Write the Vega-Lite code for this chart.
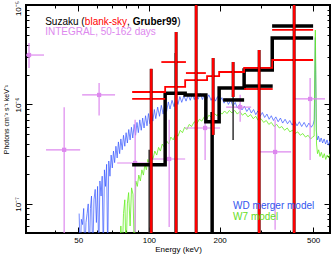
{
"$schema":"https://vega.github.io/schema/vega-lite/v6.json",
"width":304,"height":228,
"autosize":"none",
"padding":{"left":26,"top":5,"right":2,"bottom":21},
"config":{"view":{"stroke":"#000","strokeWidth":2},
 "axis":{"domain":false,"grid":false,"tickColor":"#000","tickWidth":1,"labelColor":"#000","titleColor":"#000","labelFont":"Liberation Sans","titleFont":"Liberation Sans","titleFontWeight":"normal","labelFontSize":8},
 "text":{"font":"Liberation Sans"}},
"datasets":{
"blue":[{"E":50.5,"F":8.0e-8},{"E":51.0,"F":3e-8},{"E":51.6,"F":7.0e-8},{"E":52.2,"F":6.2e-8},{"E":52.8,"F":9.0e-8},{"E":53.4,"F":3e-8},{"E":54.0,"F":6.5e-8},{"E":54.6,"F":8.0e-8},{"E":55.2,"F":1.0e-7},{"E":55.8,"F":3e-8},{"E":56.4,"F":9.0e-8},{"E":57.0,"F":1.2e-7},{"E":57.7,"F":3e-8},{"E":58.4,"F":1.1e-7},{"E":59.1,"F":1.4e-7},{"E":59.8,"F":6.5e-8},{"E":60.5,"F":1.5e-7},{"E":61.2,"F":3e-8},{"E":61.9,"F":1.7e-7},{"E":62.6,"F":1.2e-7},{"E":63.3,"F":1.9e-7},{"E":64.0,"F":3e-8},{"E":64.7,"F":2.2e-7},{"E":65.4,"F":1.5e-7},{"E":66.1,"F":2.5e-7},{"E":66.8,"F":3e-8},{"E":67.5,"F":2.7e-7},{"E":68.3,"F":1.9e-7},{"E":69.1,"F":3.1e-7},{"E":69.9,"F":2.3e-7},{"E":70.7,"F":3.4e-7},{"E":71.5,"F":2.6e-7},{"E":72.4,"F":3.8e-7},{"E":73.3,"F":2.9e-7},{"E":74.2,"F":4.2e-7},{"E":75.1,"F":3.2e-7},{"E":76.0,"F":4.5e-7},{"E":77.0,"F":3.5e-7},{"E":78.0,"F":4.9e-7},{"E":79.0,"F":3.8e-7},{"E":80.0,"F":5.2e-7},{"E":81.0,"F":4.1e-7},{"E":82.1,"F":5.6e-7},{"E":83.2,"F":4.4e-7},{"E":84.3,"F":5.9e-7},{"E":85.4,"F":4.6e-7},{"E":86.6,"F":6.3e-7},{"E":87.8,"F":4.9e-7},{"E":89.0,"F":6.6e-7},{"E":90.2,"F":5.2e-7},{"E":91.5,"F":7.0e-7},{"E":92.8,"F":5.5e-7},{"E":94.1,"F":7.3e-7},{"E":95.4,"F":5.8e-7},{"E":96.8,"F":7.7e-7},{"E":98.2,"F":6.1e-7},{"E":99.6,"F":8.1e-7},{"E":101,"F":6.4e-7},{"E":102.5,"F":8.5e-7},{"E":104,"F":6.8e-7},{"E":105.5,"F":8.9e-7},{"E":107,"F":7.2e-7},{"E":109,"F":9.4e-7},{"E":111,"F":7.6e-7},{"E":113,"F":9.8e-7},{"E":115,"F":8.0e-7},{"E":117,"F":1.02e-6},{"E":119,"F":8.5e-7},{"E":121,"F":1.06e-6},{"E":123,"F":9.0e-7},{"E":125.5,"F":1.1e-6},{"E":128,"F":9.5e-7},{"E":130.5,"F":1.15e-6},{"E":133,"F":1.0e-6},{"E":135.5,"F":1.2e-6},{"E":138,"F":1.05e-6},{"E":141,"F":1.22e-6},{"E":144,"F":1.08e-6},{"E":147,"F":1.25e-6},{"E":150,"F":1.1e-6},{"E":153,"F":1.27e-6},{"E":156,"F":1.12e-6},{"E":159,"F":1.28e-6},{"E":162,"F":1.13e-6},{"E":165.5,"F":1.29e-6},{"E":169,"F":1.12e-6},{"E":172.5,"F":1.27e-6},{"E":176,"F":1.12e-6},{"E":180,"F":1.25e-6},{"E":184,"F":1.1e-6},{"E":188,"F":1.23e-6},{"E":192,"F":1.08e-6},{"E":196,"F":1.2e-6},{"E":200,"F":1.06e-6},{"E":204.5,"F":1.17e-6},{"E":209,"F":1.03e-6},{"E":213.5,"F":1.14e-6},{"E":218,"F":1.0e-6},{"E":223,"F":1.1e-6},{"E":228,"F":9.6e-7},{"E":233,"F":1.05e-6},{"E":238,"F":9.2e-7},{"E":243.5,"F":1.0e-6},{"E":249,"F":8.8e-7},{"E":255,"F":9.6e-7},{"E":261,"F":8.5e-7},{"E":267,"F":9.2e-7},{"E":273,"F":8.2e-7},{"E":279,"F":8.9e-7},{"E":285,"F":7.9e-7},{"E":291,"F":8.6e-7},{"E":297.5,"F":7.6e-7},{"E":304,"F":8.3e-7},{"E":311,"F":7.4e-7},{"E":318,"F":8.0e-7},{"E":325,"F":7.1e-7},{"E":332,"F":7.7e-7},{"E":339,"F":6.9e-7},{"E":347,"F":7.5e-7},{"E":355,"F":6.7e-7},{"E":363,"F":7.3e-7},{"E":371,"F":6.5e-7},{"E":380,"F":7.1e-7},{"E":389,"F":6.4e-7},{"E":398,"F":6.9e-7},{"E":407,"F":6.2e-7},{"E":417,"F":6.8e-7},{"E":427,"F":6.1e-7},{"E":437,"F":6.7e-7},{"E":447,"F":6.0e-7},{"E":458,"F":6.6e-7},{"E":469,"F":5.9e-7},{"E":480,"F":6.5e-7},{"E":491,"F":5.9e-7},{"E":500,"F":6.3e-7},{"E":506,"F":7.0e-7},{"E":509,"F":2.2e-6},{"E":511,"F":4.7e-6},{"E":513,"F":1.8e-6},{"E":516,"F":5.5e-7},{"E":521,"F":4.4e-7},{"E":527,"F":4.8e-7},{"E":534,"F":4.2e-7},{"E":541,"F":4.6e-7},{"E":549,"F":4.1e-7},{"E":557,"F":4.5e-7},{"E":565,"F":4.0e-7},{"E":573,"F":4.4e-7},{"E":581,"F":3.9e-7},{"E":590,"F":4.3e-7}],
"green":[{"E":75.0,"F":3e-8},{"E":76.0,"F":6.0e-8},{"E":77.0,"F":3e-8},{"E":78.0,"F":8.0e-8},{"E":79.0,"F":1.1e-7},{"E":80.0,"F":3e-8},{"E":81.0,"F":1.0e-7},{"E":82.0,"F":1.3e-7},{"E":83.2,"F":6.0e-8},{"E":84.4,"F":1.45e-7},{"E":85.6,"F":1.25e-7},{"E":86.8,"F":3e-8},{"E":88.0,"F":1.7e-7},{"E":89.3,"F":1.5e-7},{"E":90.6,"F":1.95e-7},{"E":92.0,"F":1.7e-7},{"E":93.4,"F":2.2e-7},{"E":94.8,"F":1.95e-7},{"E":96.2,"F":2.5e-7},{"E":97.6,"F":2.2e-7},{"E":99.0,"F":2.8e-7},{"E":100.5,"F":2.5e-7},{"E":102,"F":3.1e-7},{"E":104,"F":2.8e-7},{"E":106,"F":3.4e-7},{"E":108,"F":3.1e-7},{"E":110,"F":3.7e-7},{"E":112,"F":3.4e-7},{"E":114,"F":4.0e-7},{"E":116.5,"F":3.7e-7},{"E":119,"F":4.3e-7},{"E":121.5,"F":4.0e-7},{"E":124,"F":4.7e-7},{"E":127,"F":4.4e-7},{"E":130,"F":5.1e-7},{"E":133,"F":4.8e-7},{"E":136,"F":5.5e-7},{"E":139,"F":5.2e-7},{"E":142,"F":5.9e-7},{"E":145,"F":5.6e-7},{"E":148.5,"F":6.3e-7},{"E":152,"F":6.0e-7},{"E":156,"F":6.7e-7},{"E":160,"F":6.4e-7},{"E":164,"F":7.1e-7},{"E":168,"F":6.8e-7},{"E":172,"F":7.5e-7},{"E":176,"F":7.1e-7},{"E":180,"F":7.8e-7},{"E":185,"F":7.4e-7},{"E":190,"F":8.1e-7},{"E":195,"F":7.7e-7},{"E":200,"F":8.4e-7},{"E":205,"F":8.0e-7},{"E":210,"F":8.6e-7},{"E":215,"F":8.1e-7},{"E":220,"F":8.7e-7},{"E":226,"F":8.2e-7},{"E":232,"F":8.7e-7},{"E":238,"F":8.0e-7},{"E":244,"F":8.5e-7},{"E":250,"F":7.8e-7},{"E":257,"F":8.2e-7},{"E":264,"F":7.5e-7},{"E":271,"F":7.9e-7},{"E":278,"F":7.2e-7},{"E":285,"F":7.6e-7},{"E":292,"F":6.9e-7},{"E":300,"F":7.2e-7},{"E":308,"F":6.6e-7},{"E":316,"F":6.9e-7},{"E":324,"F":6.3e-7},{"E":332,"F":6.6e-7},{"E":341,"F":6.0e-7},{"E":350,"F":6.3e-7},{"E":359,"F":5.8e-7},{"E":368,"F":6.0e-7},{"E":378,"F":5.5e-7},{"E":388,"F":5.8e-7},{"E":398,"F":5.3e-7},{"E":408,"F":5.5e-7},{"E":419,"F":5.1e-7},{"E":430,"F":5.3e-7},{"E":441,"F":4.9e-7},{"E":452,"F":5.1e-7},{"E":464,"F":4.7e-7},{"E":476,"F":4.9e-7},{"E":488,"F":4.5e-7},{"E":498,"F":4.7e-7},{"E":505,"F":4.8e-7},{"E":508.5,"F":2.5e-6},{"E":511,"F":5.6e-6},{"E":513.5,"F":2.0e-6},{"E":517,"F":4.0e-7},{"E":522,"F":3.2e-7},{"E":528,"F":3.5e-7},{"E":535,"F":3.0e-7},{"E":542,"F":3.3e-7},{"E":550,"F":2.9e-7},{"E":558,"F":3.2e-7},{"E":566,"F":2.8e-7},{"E":574,"F":3.1e-7},{"E":582,"F":2.9e-7},{"E":590,"F":3.2e-7}],
"integral":[{"E":30.9,"El":27,"Eh":35.8,"F":3.14e-6,"Fl":2.33e-6,"Fh":4.15e-6},{"E":43.6,"El":36.5,"Eh":51.0,"F":3.5e-7,"Fl":1e-8,"Fh":9.4e-7},{"E":61.4,"El":52.0,"Eh":71.8,"F":1.246e-6,"Fl":7.75e-7,"Fh":1.64e-6},{"E":87.4,"El":73.3,"Eh":103.2,"F":2.58e-7,"Fl":5.23e-8,"Fh":7.0e-7},{"E":122,"El":103.2,"Eh":142.7,"F":2.83e-7,"Fl":5.87e-8,"Fh":7.0e-7},{"E":173.5,"El":142.7,"Eh":201,"F":5.8e-7,"Fl":2.77e-7,"Fh":9.4e-7},{"E":244.6,"El":213.2,"Eh":272.3,"F":9.4e-7,"Fl":6.7e-7,"Fh":1.25e-6},{"E":344.5,"El":291.7,"Eh":403,"F":3.33e-7,"Fl":5.5e-8,"Fh":7.0e-7},{"E":485.5,"El":411,"Eh":562,"F":1.136e-6,"Fl":2.77e-7,"Fh":1.85e-6}],
"blackStep":[{"E":84.9,"F":2.48e-7},{"E":117.3,"F":1.30e-6},{"E":142.7,"F":1.246e-6},{"E":174.8,"F":6.7e-7},{"E":199.1,"F":1.46e-6},{"E":254.3,"F":2.22e-6},{"E":335,"F":4.66e-6},{"E":500,"F":4.66e-6}],
"redStep":[{"E":84.9,"F":1.335e-6},{"E":117.3,"F":1.50e-6},{"E":142.7,"F":1.76e-6},{"E":176.9,"F":1.93e-6},{"E":199.1,"F":2.12e-6},{"E":254.3,"F":2.33e-6},{"E":335,"F":2.80e-6},{"E":500,"F":2.80e-6}],
"redBars":[{"E":84.9,"E2":117.3,"F":1.136e-6},{"E":113,"E2":143.8,"F":2.67e-6},{"E":143.8,"E2":174.8,"F":2.07e-6},{"E":254.3,"E2":336.5,"F":1.43e-6},{"E":334.6,"E2":500,"F":5.61e-6}],
"blackBars":[{"E":254.3,"E2":336.5,"F":1.53e-6},{"E":334.6,"E2":500,"F":6.15e-6},{"E":207,"E2":254.3,"F":1.11e-6}],
"blackErr":[{"E":100.3,"F":3.5e-7,"F2":1e-8},{"E":129.5,"F":3.29e-6,"F2":1e-8},{"E":228.3,"F":1.85e-6,"F2":4.4e-7}],
"blackErrThick":[{"E":185.9,"F":8.4e-7,"F2":1e-8}],
"redErr":[{"E":102.3,"F":2.28e-6,"F2":1e-8},{"E":130.6,"F":5.35e-6,"F2":1e-8},{"E":158.9,"F":2e-5,"F2":1e-8},{"E":187.7,"F":2.93e-6,"F2":4.94e-7},{"E":228.3,"F":2.67e-6,"F2":1.19e-6},{"E":294.6,"F":3.53e-6,"F2":1e-8},{"E":415.1,"F":2e-5,"F2":1e-8}],
"labels":[{"E":36.2,"F":6.3e-6,"t":"Suzaku (","g":"k"},{"E":53.4,"F":6.3e-6,"t":"blank-sky","g":"r"},{"E":80.7,"F":6.3e-6,"t":", ","g":"k"},{"E":85.3,"F":6.3e-6,"t":"Gruber99","g":"kb"},{"E":132.0,"F":6.3e-6,"t":")","g":"k"},{"E":36.2,"F":4.99e-6,"t":"INTEGRAL, 50-162 days","g":"p"},{"E":228.3,"F":8.9e-8,"t":"WD merger model","g":"b"},{"E":228.3,"F":6.9e-8,"t":"W7 model","g":"g"}]
},
"layer":[
{"data":{"name":"blue"},"mark":{"type":"line","color":"#3355ff","strokeWidth":0.7,"clip":true},
 "encoding":{"x":{"field":"E","type":"quantitative","scale":{"type":"log","domain":[30,590],"nice":false},
   "axis":{"orient":"bottom","values":[50,100,200,500],"ticks":false,"labelPadding":3,"labelFlush":false,"title":"Energy (keV)","titleFontSize":8,"titlePadding":1}},
  "y":{"field":"F","type":"quantitative","scale":{"type":"log","domain":[5.1e-8,1e-5],"nice":false},
   "axis":{"orient":"left","values":[1e-7,1e-6,1e-5],"ticks":false,"labelPadding":4,"labelAngle":270,"labelAlign":"center","labelBaseline":"bottom","labelFlush":false,"labelOffset":{"condition":{"test":"datum.value > 5e-6","value":3},"value":0},"labelExpr":"datum.value > 5e-6 ? '10⁻⁵' : datum.value > 5e-7 ? '10⁻⁶' : '10⁻⁷'","title":"Photons cm⁻² s⁻¹ keV⁻¹","titleFontSize":7,"titlePadding":5}}}},
{"data":{"name":"green"},"mark":{"type":"line","color":"#66ee22","strokeWidth":0.8,"clip":true},
 "encoding":{"x":{"field":"E","type":"quantitative","scale":{"type":"log","domain":[30,590],"nice":false},
   "axis":{"orient":"bottom","values":[50,100,200,500],"labels":false,"tickSize":-6,"title":null}},
  "y":{"field":"F","type":"quantitative","scale":{"type":"log","domain":[5.1e-8,1e-5],"nice":false},
   "axis":{"orient":"left","values":[1e-7,1e-6,1e-5],"labels":false,"tickSize":-6,"title":null}}}},
{"data":{"name":"integral"},"mark":{"type":"rule","color":"#dd88ee","strokeWidth":1.2,"clip":true},
 "encoding":{"x":{"field":"El","type":"quantitative","scale":{"type":"log","domain":[30,590],"nice":false},
   "axis":{"orient":"bottom","values":[40,60,70,80,90,300,400],"labels":false,"tickSize":-3,"title":null}},
  "x2":{"field":"Eh"},
  "y":{"field":"F","type":"quantitative","scale":{"type":"log","domain":[5.1e-8,1e-5],"nice":false},
   "axis":{"orient":"left","values":[6e-8,7e-8,8e-8,9e-8,2e-7,3e-7,4e-7,5e-7,6e-7,7e-7,8e-7,9e-7,2e-6,3e-6,4e-6,5e-6,6e-6,7e-6,8e-6,9e-6],"labels":false,"tickSize":-3,"title":null}}}},
{"data":{"name":"integral"},"mark":{"type":"rule","color":"#dd88ee","strokeWidth":1.2,"clip":true},
 "encoding":{"x":{"field":"E","type":"quantitative","scale":{"type":"log","domain":[30,590],"nice":false},
   "axis":{"orient":"top","values":[50,100,200,500],"labels":false,"tickSize":-6,"title":null}},
  "y":{"field":"Fl","type":"quantitative","scale":{"type":"log","domain":[5.1e-8,1e-5],"nice":false},
   "axis":{"orient":"right","values":[1e-7,1e-6,1e-5],"labels":false,"tickSize":-6,"title":null}},
  "y2":{"field":"Fh"}}},
{"data":{"name":"integral"},"mark":{"type":"point","shape":"square","filled":true,"opacity":1,"size":18,"color":"#dd88ee","clip":true},
 "encoding":{"x":{"field":"E","type":"quantitative","scale":{"type":"log","domain":[30,590],"nice":false},
   "axis":{"orient":"top","values":[40,60,70,80,90,300,400],"labels":false,"tickSize":-3,"title":null}},
  "y":{"field":"F","type":"quantitative","scale":{"type":"log","domain":[5.1e-8,1e-5],"nice":false},
   "axis":{"orient":"right","values":[6e-8,7e-8,8e-8,9e-8,2e-7,3e-7,4e-7,5e-7,6e-7,7e-7,8e-7,9e-7,2e-6,3e-6,4e-6,5e-6,6e-6,7e-6,8e-6,9e-6],"labels":false,"tickSize":-3,"title":null}}}},
{"data":{"name":"blackErr"},"mark":{"type":"rule","color":"#333333","strokeWidth":1.5,"clip":true},
 "encoding":{"x":{"field":"E","type":"quantitative","scale":{"type":"log","domain":[30,590],"nice":false},"axis":null},
  "y":{"field":"F","type":"quantitative","scale":{"type":"log","domain":[5.1e-8,1e-5],"nice":false},"axis":null},"y2":{"field":"F2"}}},
{"data":{"name":"blackErrThick"},"mark":{"type":"rule","color":"#000000","strokeWidth":3.5,"clip":true},
 "encoding":{"x":{"field":"E","type":"quantitative","scale":{"type":"log","domain":[30,590],"nice":false},"axis":null},
  "y":{"field":"F","type":"quantitative","scale":{"type":"log","domain":[5.1e-8,1e-5],"nice":false},"axis":null},"y2":{"field":"F2"}}},
{"data":{"name":"blackStep"},"mark":{"type":"line","interpolate":"step-after","color":"#000000","strokeWidth":3.5,"clip":true},
 "encoding":{"x":{"field":"E","type":"quantitative","scale":{"type":"log","domain":[30,590],"nice":false},"axis":null},
  "y":{"field":"F","type":"quantitative","scale":{"type":"log","domain":[5.1e-8,1e-5],"nice":false},"axis":null}}},
{"data":{"name":"blackBars"},"mark":{"type":"rule","color":"#000000","strokeWidth":3.5,"clip":true},
 "encoding":{"x":{"field":"E","type":"quantitative","scale":{"type":"log","domain":[30,590],"nice":false},"axis":null},"x2":{"field":"E2"},
  "y":{"field":"F","type":"quantitative","scale":{"type":"log","domain":[5.1e-8,1e-5],"nice":false},"axis":null}}},
{"data":{"name":"redStep"},"mark":{"type":"line","interpolate":"step-after","color":"#ff0000","strokeWidth":1.8,"clip":true},
 "encoding":{"x":{"field":"E","type":"quantitative","scale":{"type":"log","domain":[30,590],"nice":false},"axis":null},
  "y":{"field":"F","type":"quantitative","scale":{"type":"log","domain":[5.1e-8,1e-5],"nice":false},"axis":null}}},
{"data":{"name":"redBars"},"mark":{"type":"rule","color":"#ff0000","strokeWidth":1.8,"clip":true},
 "encoding":{"x":{"field":"E","type":"quantitative","scale":{"type":"log","domain":[30,590],"nice":false},"axis":null},"x2":{"field":"E2"},
  "y":{"field":"F","type":"quantitative","scale":{"type":"log","domain":[5.1e-8,1e-5],"nice":false},"axis":null}}},
{"data":{"name":"redErr"},"mark":{"type":"rule","color":"#550000","strokeWidth":3.0,"clip":true},
 "encoding":{"x":{"field":"E","type":"quantitative","scale":{"type":"log","domain":[30,590],"nice":false},"axis":null},
  "y":{"field":"F","type":"quantitative","scale":{"type":"log","domain":[5.1e-8,1e-5],"nice":false},"axis":null},"y2":{"field":"F2"}}},
{"data":{"name":"redErr"},"mark":{"type":"rule","color":"#ff0000","strokeWidth":2.2,"clip":true},
 "encoding":{"x":{"field":"E","type":"quantitative","scale":{"type":"log","domain":[30,590],"nice":false},"axis":null},
  "y":{"field":"F","type":"quantitative","scale":{"type":"log","domain":[5.1e-8,1e-5],"nice":false},"axis":null},"y2":{"field":"F2"}}},
{"data":{"name":"labels"},"transform":[{"filter":"datum.g !== 'kb'"}],
 "mark":{"type":"text","align":"left","baseline":"alphabetic","fontSize":10,"font":"Liberation Sans"},
 "encoding":{"x":{"field":"E","type":"quantitative","scale":{"type":"log","domain":[30,590],"nice":false},"axis":null},
  "y":{"field":"F","type":"quantitative","scale":{"type":"log","domain":[5.1e-8,1e-5],"nice":false},"axis":null},
  "text":{"field":"t"},
  "color":{"field":"g","type":"nominal","scale":{"domain":["k","r","p","b","g"],"range":["#000000","#ff0000","#dd88ee","#3355ee","#66dd22"]},"legend":null}}},
{"data":{"name":"labels"},"transform":[{"filter":"datum.g === 'kb'"}],
 "mark":{"type":"text","align":"left","baseline":"alphabetic","fontSize":10,"font":"Liberation Sans","fontWeight":"bold","color":"#000000"},
 "encoding":{"x":{"field":"E","type":"quantitative","scale":{"type":"log","domain":[30,590],"nice":false},"axis":null},
  "y":{"field":"F","type":"quantitative","scale":{"type":"log","domain":[5.1e-8,1e-5],"nice":false},"axis":null},
  "text":{"field":"t"}}}
],
"resolve":{"scale":{"x":"shared","y":"shared"},"axis":{"x":"independent","y":"independent"}}
}
